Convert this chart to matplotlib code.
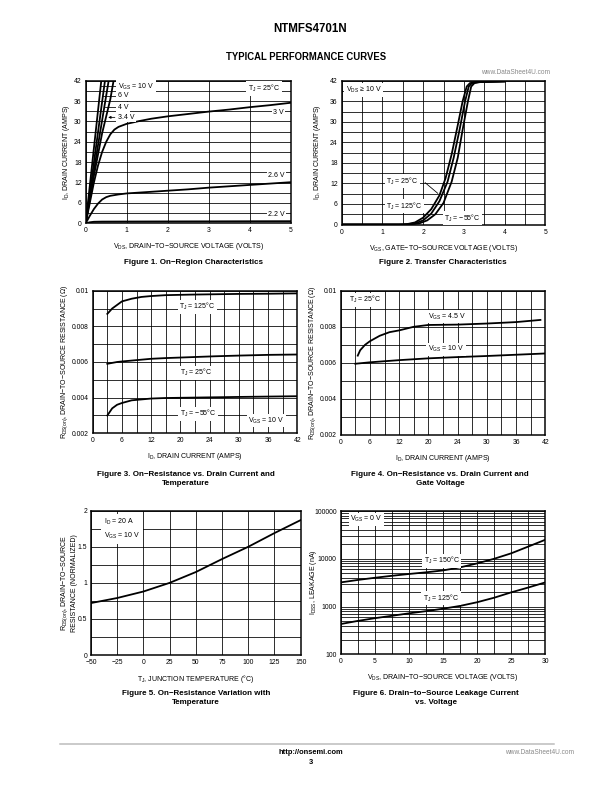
import matplotlib.pyplot as plt
from matplotlib.ticker import FixedLocator, NullFormatter

plt.rcParams['font.family'] = ['Liberation Sans', 'DejaVu Sans']
plt.rcParams['mathtext.fontset'] = 'custom'
plt.rcParams['mathtext.rm'] = 'Liberation Sans'
plt.rcParams['mathtext.it'] = 'Liberation Sans:italic'
plt.rcParams['mathtext.bf'] = 'Liberation Sans:bold'

# Figure 1: on-region characteristics (ID vs VDS for several VGS)
f1_vds_10 = [0, 0.38]
f1_id_10 = [0, 42]
f1_vds_6 = [0, 0.47]
f1_id_6 = [0, 42]
f1_vds_4 = [0, 0.3, 0.56]
f1_id_4 = [0, 23, 42]
f1_vds_34 = [0, 0.2, 0.4, 0.5, 0.6, 0.68]
f1_id_34 = [0, 14, 26.5, 31.5, 36.5, 42]
f1_vds_3 = [0, 0.1, 0.2, 0.3, 0.4, 0.5, 0.6, 0.7, 0.8, 1.0, 1.3, 1.6, 2.0, 2.5, 3.0, 3.5, 4.0, 4.5, 5.0]
f1_id_3 = [0, 6, 12, 17, 21, 24, 26.2, 27.6, 28.4, 29.3, 30.1, 30.8, 31.5, 32.2, 32.9, 33.5, 34.2, 34.8, 35.5]
f1_vds_26 = [0, 0.1, 0.2, 0.3, 0.4, 0.5, 0.6, 0.8, 1.0, 1.5, 2.0, 2.5, 3.0, 3.5, 4.0, 4.5, 5.0]
f1_id_26 = [0, 2.2, 4.2, 5.8, 7.0, 7.7, 8.1, 8.5, 8.8, 9.2, 9.6, 10.0, 10.5, 10.9, 11.3, 11.7, 12.1]
f1_vds_22 = [0, 0.1, 0.2, 0.4, 1.0, 2.0, 3.0, 4.0, 5.0]
f1_id_22 = [0, 0.3, 0.45, 0.5, 0.52, 0.55, 0.57, 0.6, 0.62]

# Figure 2: transfer characteristics (ID vs VGS)
f2_vgs_125 = [0, 1.4, 1.6, 1.8, 2.0, 2.2, 2.4, 2.55, 2.7, 2.85, 2.97, 3.07, 3.15, 3.3, 4.0]
f2_id_125 = [0, 0, 0.1, 0.6, 2.0, 4.5, 8.5, 13.5, 20.5, 29, 36, 40.3, 41.3, 41.6, 41.8]
f2_vgs_25 = [0, 1.5, 1.8, 2.0, 2.2, 2.4, 2.6, 2.75, 2.9, 3.03, 3.12, 3.2, 3.35, 4.0]
f2_id_25 = [0, 0, 0.3, 1.2, 3.2, 6.8, 12.5, 19.5, 28, 36, 40.3, 41.3, 41.6, 41.8]
f2_vgs_m55 = [0, 1.6, 1.9, 2.1, 2.3, 2.5, 2.7, 2.85, 2.97, 3.1, 3.18, 3.26, 3.4, 4.0]
f2_id_m55 = [0, 0, 0.3, 1.2, 3.0, 6.3, 12.5, 19.5, 27.7, 36, 40.3, 41.3, 41.6, 41.8]

# Figure 3: RDS(on) vs ID and temperature
f3_id = [3, 4, 5, 6, 8, 10, 12, 15, 20, 25, 30, 36, 42]
f3_r_125 = [0.0087, 0.0090, 0.0092, 0.0094, 0.00955, 0.00965, 0.0097, 0.00975, 0.00978, 0.0098, 0.00982, 0.00983, 0.00985]
f3_r_25 = [0.00590, 0.00595, 0.00600, 0.00603, 0.00608, 0.00613, 0.00618, 0.00622, 0.00627, 0.00632, 0.00636, 0.00640, 0.00642]
f3_r_m55 = [0.0030, 0.0034, 0.0036, 0.0037, 0.00385, 0.0039, 0.00395, 0.00398, 0.0040, 0.00402, 0.00404, 0.00406, 0.00408]

# Figure 4: RDS(on) vs ID and gate voltage
f4_id_45 = [3.5, 4, 5, 6, 8, 10, 12, 15, 18, 24, 30, 36, 41]
f4_r_45 = [0.0064, 0.0067, 0.0070, 0.0072, 0.0075, 0.0077, 0.0078, 0.0080, 0.0081, 0.00812, 0.00818, 0.00826, 0.00838]
f4_id_10 = [3, 6, 12, 18, 24, 30, 36, 42]
f4_r_10 = [0.00595, 0.00603, 0.00615, 0.00625, 0.00632, 0.00638, 0.00645, 0.00652]

# Figure 5: normalized RDS(on) vs junction temperature
f5_tj = [-50, -25, 0, 25, 50, 75, 100, 125, 150]
f5_r = [0.72, 0.79, 0.88, 1.0, 1.15, 1.33, 1.50, 1.69, 1.87]

# Figure 6: IDSS leakage vs VDS
f6_vds = [0, 2.5, 5, 7.5, 10, 12.5, 15, 17.5, 20, 22.5, 25, 27.5, 30]
f6_i_150 = [3200, 3600, 4000, 4400, 4800, 5200, 5700, 6600, 8000, 10000, 13000, 18000, 25000]
f6_i_125 = [430, 500, 570, 640, 720, 800, 900, 1030, 1230, 1530, 1980, 2500, 3200]

fig = plt.figure(figsize=(8.5, 11), dpi=72)
W, H = 612.0, 792.0


def add_ax(left, top, right, bottom):
    return fig.add_axes([left / W, 1 - bottom / H, (right - left) / W, (bottom - top) / H])


def style(ax):
    for s in ax.spines.values():
        s.set_linewidth(1.5)
    ax.tick_params(which='both', length=0, labelsize=6.8, pad=4)
    ax.grid(which='both', color='black', linewidth=0.8)
    ax.set_axisbelow(True)


white = dict(fc='white', ec='none', pad=1.5)
CURVE = dict(color='black', linewidth=1.8)
lab = dict(fontsize=7)

# ---- Figure 1
ax1 = add_ax(85.7, 80.7, 290.7, 223.3)
for x, y in [(f1_vds_10, f1_id_10), (f1_vds_6, f1_id_6), (f1_vds_4, f1_id_4), (f1_vds_34, f1_id_34),
             (f1_vds_3, f1_id_3), (f1_vds_26, f1_id_26), (f1_vds_22, f1_id_22)]:
    ax1.plot(x, y, **CURVE)
ax1.set_xlim(0, 5)
ax1.set_ylim(0, 42)
ax1.set_xticks(range(0, 6))
ax1.set_yticks(range(0, 43, 6))
ax1.yaxis.set_minor_locator(FixedLocator(range(3, 42, 6)))
style(ax1)
ax1.text(0.78, 40.3, r'V$_{\mathrm{GS}}$ = 10 V', va='center', bbox=white, **lab)
ax1.text(0.78, 37.5, '6 V', va='center', bbox=white, **lab)
ax1.text(0.78, 34.2, '4 V', va='center', bbox=white, **lab)
ax1.text(0.78, 31.2, '3.4 V', va='center', bbox=white, **lab)
ax1.plot([0.37, 0.76], [40.3, 40.3], color='black', lw=0.8)
ax1.plot([0.42, 0.76], [37.5, 37.5], color='black', lw=0.8)
ax1.plot([0.47, 0.76], [34.2, 34.2], color='black', lw=0.8)
ax1.annotate('', xy=(0.5, 31.2), xytext=(0.76, 31.2),
             arrowprops=dict(arrowstyle='-|>', color='black', lw=0.8, mutation_scale=5))
ax1.text(4.35, 39.7, r'T$_{\mathrm{J}}$ = 25°C', va='center', ha='center', bbox=white, **lab)
ax1.text(4.7, 32.6, '3 V', va='center', ha='center', bbox=white, **lab)
ax1.text(4.65, 14.0, '2.6 V', va='center', ha='center', bbox=white, **lab)
ax1.text(4.65, 2.7, '2.2 V', va='center', ha='center', bbox=white, **lab)
ax1.set_xlabel(r'V$_{\mathrm{DS}}$, DRAIN−TO−SOURCE VOLTAGE (VOLTS)', fontsize=7, labelpad=7)
ax1.set_ylabel(r'I$_{\mathrm{D}}$, DRAIN CURRENT (AMPS)', fontsize=7)
ax1.yaxis.set_label_coords(-0.067, 0.5)

# ---- Figure 2
ax2 = add_ax(341.7, 80.7, 545.3, 224.5)
for x, y in [(f2_vgs_125, f2_id_125), (f2_vgs_25, f2_id_25), (f2_vgs_m55, f2_id_m55)]:
    ax2.plot(x, y, **CURVE)
ax2.set_xlim(0, 5)
ax2.set_ylim(0, 42)
ax2.set_xticks(range(0, 6))
ax2.xaxis.set_minor_locator(FixedLocator([0.5, 1.5, 2.5, 3.5, 4.5]))
ax2.set_yticks(range(0, 43, 6))
ax2.yaxis.set_minor_locator(FixedLocator(range(3, 42, 6)))
style(ax2)
ax2.text(0.1, 39.3, r'V$_{\mathrm{DS}}$ ≥ 10 V', va='center', bbox=white, **lab)
ax2.text(1.1, 12.7, r'T$_{\mathrm{J}}$ = 25°C', va='center', bbox=white, **lab)
ax2.plot([2.05, 2.36], [12.2, 9.1], color='black', lw=0.8)
ax2.text(1.1, 5.4, r'T$_{\mathrm{J}}$ = 125°C', va='center', bbox=white, **lab)
ax2.text(2.52, 1.8, r'T$_{\mathrm{J}}$ = −55°C', va='center', bbox=white, **lab)
ax2.set_xlabel(r'V$_{\mathrm{GS}}$, GATE−TO−SOURCE VOLTAGE (VOLTS)', fontsize=7, labelpad=7)
ax2.set_ylabel(r'I$_{\mathrm{D}}$, DRAIN CURRENT (AMPS)', fontsize=7)
ax2.yaxis.set_label_coords(-0.092, 0.5)

# ---- Figure 3 and 4 share the same axes layout
id_ticks = [0, 6, 12, 18, 24, 30, 36, 42]
id_ticklabels = ['0', '6', '12', '20', '24', '30', '36', '42']
r_ticks = [0.002, 0.004, 0.006, 0.008, 0.01]
r_ticklabels = ['0.002', '0.004', '0.006', '0.008', '0.01']

ax3 = add_ax(92.7, 290.7, 297.3, 433.3)
for y in [f3_r_125, f3_r_25, f3_r_m55]:
    ax3.plot(f3_id, y, **CURVE)
ax4 = add_ax(340.7, 290.7, 545.3, 435)
ax4.plot(f4_id_45, f4_r_45, **CURVE)
ax4.plot(f4_id_10, f4_r_10, **CURVE)
for ax in (ax3, ax4):
    ax.set_xlim(0, 42)
    ax.set_ylim(0.002, 0.01)
    ax.set_xticks(id_ticks)
    ax.set_xticklabels(id_ticklabels)
    ax.xaxis.set_minor_locator(FixedLocator(range(3, 42, 6)))
    ax.set_yticks(r_ticks)
    ax.set_yticklabels(r_ticklabels)
    ax.yaxis.set_minor_locator(FixedLocator([0.003, 0.005, 0.007, 0.009]))
    style(ax)
    ax.set_xlabel(r'I$_{\mathrm{D}}$, DRAIN CURRENT (AMPS)', fontsize=7, labelpad=7)
    ax.set_ylabel(r'R$_{\mathrm{DS(on)}}$, DRAIN−TO−SOURCE RESISTANCE (Ω)', fontsize=7)
    ax.yaxis.set_label_coords(-0.111, 0.5)

ax3.text(21.5, 0.0091, r'T$_{\mathrm{J}}$ = 125°C', va='center', ha='center', bbox=white, **lab)
ax3.text(21.3, 0.0054, r'T$_{\mathrm{J}}$ = 25°C', va='center', ha='center', bbox=white, **lab)
ax3.text(21.6, 0.0031, r'T$_{\mathrm{J}}$ = −55°C', va='center', ha='center', bbox=white, **lab)
ax3.text(35.7, 0.0027, r'V$_{\mathrm{GS}}$ = 10 V', va='center', ha='center', bbox=white, **lab)

ax4.text(5.0, 0.0095, r'T$_{\mathrm{J}}$ = 25°C', va='center', ha='center', bbox=white, **lab)
ax4.text(21.9, 0.00856, r'V$_{\mathrm{GS}}$ = 4.5 V', va='center', ha='center', bbox=white, **lab)
ax4.text(21.6, 0.00675, r'V$_{\mathrm{GS}}$ = 10 V', va='center', ha='center', bbox=white, **lab)

# ---- Figure 5
ax5 = add_ax(91, 510.7, 300.7, 655)
ax5.plot(f5_tj, f5_r, **CURVE)
ax5.set_xlim(-50, 150)
ax5.set_ylim(0, 2)
ax5.set_xticks(range(-50, 151, 25))
ax5.set_yticks([0, 0.5, 1, 1.5, 2])
ax5.set_yticklabels(['0', '0.5', '1', '1.5', '2'])
ax5.yaxis.set_minor_locator(FixedLocator([0.25, 0.75, 1.25, 1.75]))
style(ax5)
ax5.text(-38, 1.75, 'I$_{\\mathrm{D}}$ = 20 A\nV$_{\\mathrm{GS}}$ = 10 V', va='center',
         linespacing=1.5, bbox=dict(fc='white', ec='none', pad=3), **lab)
ax5.set_xlabel(r'T$_{\mathrm{J}}$, JUNCTION TEMPERATURE (°C)', fontsize=7, labelpad=7)
ax5.set_ylabel('R$_{\\mathrm{DS(on)}}$, DRAIN−TO−SOURCE\nRESISTANCE (NORMALIZED)', fontsize=7,
               linespacing=1.15)
ax5.yaxis.set_label_coords(-0.062, 0.5)

# ---- Figure 6
ax6 = add_ax(340.7, 511, 545.3, 654.3)
ax6.semilogy(f6_vds, f6_i_150, **CURVE)
ax6.semilogy(f6_vds, f6_i_125, **CURVE)
ax6.set_xlim(0, 30)
ax6.set_ylim(100, 100000)
ax6.set_xticks(range(0, 31, 5))
ax6.xaxis.set_minor_locator(FixedLocator([2.5, 7.5, 12.5, 17.5, 22.5, 27.5]))
ax6.set_yticks([100, 1000, 10000, 100000])
ax6.set_yticklabels(['100', '1000', '10000', '100000'])
ax6.yaxis.set_minor_formatter(NullFormatter())
style(ax6)
ax6.text(1.4, 67000, r'V$_{\mathrm{GS}}$ = 0 V', va='center', bbox=white, **lab)
ax6.text(14.8, 9100, r'T$_{\mathrm{J}}$ = 150°C', va='center', ha='center', bbox=white, **lab)
ax6.text(14.7, 1480, r'T$_{\mathrm{J}}$ = 125°C', va='center', ha='center', bbox=white, **lab)
ax6.set_xlabel(r'V$_{\mathrm{DS}}$, DRAIN−TO−SOURCE VOLTAGE (VOLTS)', fontsize=7, labelpad=7)
ax6.set_ylabel(r'I$_{\mathrm{DSS}}$, LEAKAGE (nA)', fontsize=7)
ax6.yaxis.set_label_coords(-0.106, 0.5)

# ---- page text
def ftext(x, y, s, **kw):
    fig.text(x / W, 1 - y / H, s, ha=kw.pop('ha', 'center'), va=kw.pop('va', 'center'), **kw)


ftext(310, 29, 'NTMFS4701N', fontsize=11.5, fontweight='bold')
ftext(306, 57, 'TYPICAL PERFORMANCE CURVES', fontsize=9.5, fontweight='bold')
ftext(516, 72, 'www.DataSheet4U.com', fontsize=6.5, color='#888888')

cap = dict(fontsize=8, fontweight='bold', linespacing=1.3)
ftext(193, 263, 'Figure 1. On−Region Characteristics', **cap)
ftext(443, 263, 'Figure 2. Transfer Characteristics', **cap)
ftext(186, 479, 'Figure 3. On−Resistance vs. Drain Current and\nTemperature', **cap)
ftext(440, 479, 'Figure 4. On−Resistance vs. Drain Current and\nGate Voltage', **cap)
ftext(196, 698, 'Figure 5. On−Resistance Variation with\nTemperature', **cap)
ftext(436, 698, 'Figure 6. Drain−to−Source Leakage Current\nvs. Voltage', **cap)

fig.add_artist(plt.Line2D([60 / W, 554 / W], [1 - 744 / H, 1 - 744 / H], color='#bbbbbb', lw=1.5))
ftext(311, 752, 'http://onsemi.com', fontsize=7.5, fontweight='bold')
ftext(311, 762, '3', fontsize=7.5, fontweight='bold')
ftext(540, 752, 'www.DataSheet4U.com', fontsize=6.5, color='#888888')

fig.savefig('out.png', dpi=72)
